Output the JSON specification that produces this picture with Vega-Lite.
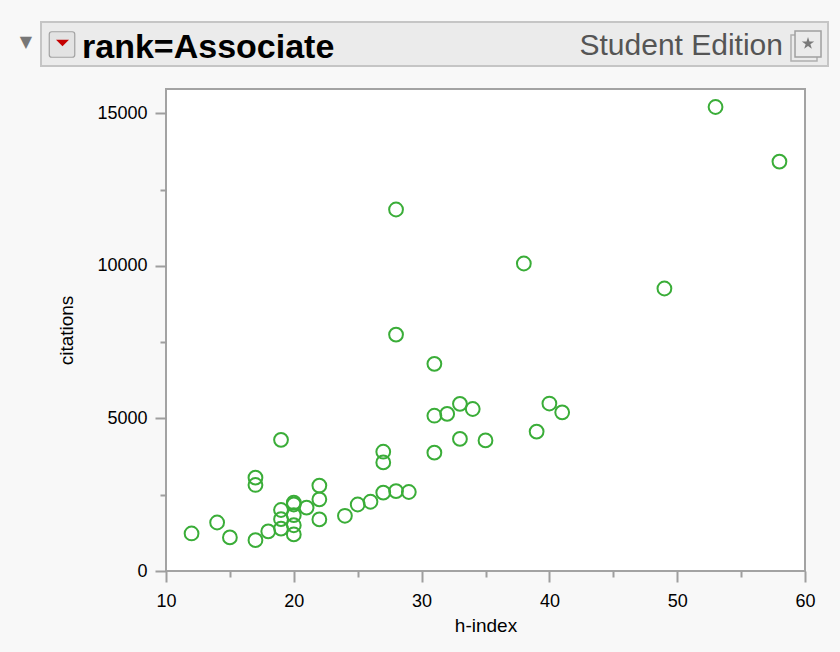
{
  "$schema": "https://vega.github.io/schema/vega-lite/v6.json",
  "background": "#f8f8f8",
  "padding": {"left": 19, "top": 21, "right": 12, "bottom": 16},
  "autosize": {"type": "pad"},
  "title": {"text": "▼", "anchor": "start", "frame": "bounds", "align": "center", "baseline": "middle", "dx": -14, "offset": -37, "fontSize": 16, "color": "#777777", "font": "DejaVu Sans", "fontWeight": "normal"},
  "spacing": 21,
  "config": {"font": "Liberation Sans"},
  "vconcat": [
    {
      "width": 787,
      "height": 44,
      "view": {"fill": "#ebebeb", "stroke": "#c5c5c5", "strokeWidth": 2},
      "data": {"values": [{}]},
      "layer": [
        {
          "mark": {"type": "point", "shape": "M-0.8,-1L0.8,-1Q1,-1,1,-0.8L1,0.8Q1,1,0.8,1L-0.8,1Q-1,1,-1,0.8L-1,-0.8Q-1,-1,-0.8,-1Z", "size": 650, "filled": true, "fill": "#e3e3e3", "stroke": "#a2a2a2", "strokeWidth": 1.2, "opacity": 1},
          "encoding": {
            "x": {"datum": 2.67, "type": "quantitative", "scale": {"domain": [0, 100], "nice": false, "zero": false}, "axis": null},
            "y": {"datum": 48.9, "type": "quantitative", "scale": {"domain": [0, 100], "nice": false, "zero": false}, "axis": null}
          }
        },
        {
          "mark": {"type": "point", "shape": "M-1,-0.5L1,-0.5L0,0.5Z", "size": 169, "filled": true, "fill": "#c40000", "strokeWidth": 0, "opacity": 1},
          "encoding": {
            "x": {"datum": 2.73, "type": "quantitative", "scale": {"domain": [0, 100], "nice": false, "zero": false}, "axis": null},
            "y": {"datum": 52.3, "type": "quantitative", "scale": {"domain": [0, 100], "nice": false, "zero": false}, "axis": null}
          }
        },
        {
          "mark": {"type": "text", "text": "rank=Associate", "align": "left", "baseline": "alphabetic", "font": "Liberation Sans", "fontWeight": "bold", "fontSize": 34, "color": "#000000"},
          "encoding": {
            "x": {"datum": 5.21, "type": "quantitative", "scale": {"domain": [0, 100], "nice": false, "zero": false}, "axis": null},
            "y": {"datum": 18.2, "type": "quantitative", "scale": {"domain": [0, 100], "nice": false, "zero": false}, "axis": null}
          }
        },
        {
          "mark": {"type": "text", "text": "Student Edition", "align": "right", "baseline": "alphabetic", "font": "Liberation Sans", "fontSize": 30, "color": "#555555"},
          "encoding": {
            "x": {"datum": 94.28, "type": "quantitative", "scale": {"domain": [0, 100], "nice": false, "zero": false}, "axis": null},
            "y": {"datum": 25, "type": "quantitative", "scale": {"domain": [0, 100], "nice": false, "zero": false}, "axis": null}
          }
        },
        {
          "mark": {"type": "point", "shape": "square", "size": 676, "filled": true, "fill": "#ebebeb", "stroke": "#b0b0b0", "strokeWidth": 1.5, "opacity": 1},
          "encoding": {
            "x": {"datum": 96.95, "type": "quantitative", "scale": {"domain": [0, 100], "nice": false, "zero": false}, "axis": null},
            "y": {"datum": 40.9, "type": "quantitative", "scale": {"domain": [0, 100], "nice": false, "zero": false}, "axis": null}
          }
        },
        {
          "mark": {"type": "point", "shape": "square", "size": 676, "filled": true, "fill": "#ebebeb", "stroke": "#a0a0a0", "strokeWidth": 1.5, "opacity": 1},
          "encoding": {
            "x": {"datum": 97.46, "type": "quantitative", "scale": {"domain": [0, 100], "nice": false, "zero": false}, "axis": null},
            "y": {"datum": 50, "type": "quantitative", "scale": {"domain": [0, 100], "nice": false, "zero": false}, "axis": null}
          }
        },
        {
          "mark": {"type": "point", "shape": "M0,-1L0.2245,-0.309L0.951,-0.309L0.363,0.118L0.588,0.809L0,0.382L-0.588,0.809L-0.363,0.118L-0.951,-0.309L-0.2245,-0.309Z", "size": 170, "filled": true, "fill": "#7a7a7a", "strokeWidth": 0, "opacity": 1},
          "encoding": {
            "x": {"datum": 97.46, "type": "quantitative", "scale": {"domain": [0, 100], "nice": false, "zero": false}, "axis": null},
            "y": {"datum": 51.1, "type": "quantitative", "scale": {"domain": [0, 100], "nice": false, "zero": false}, "axis": null}
          }
        }
      ]
    },
    {
      "spacing": 0,
      "hconcat": [
        {
          "width": 15,
          "height": 10,
          "view": {"stroke": null, "fill": null},
          "data": {"values": []},
          "mark": {"type": "point", "opacity": 0}
        },
        {
          "width": 639,
          "height": 482,
          "view": {"fill": "#ffffff", "stroke": "#a3a3a3", "strokeWidth": 2},
          "data": {
            "values": [
              {"h": 12, "citations": 1230},
              {"h": 14, "citations": 1590},
              {"h": 15, "citations": 1100},
              {"h": 17, "citations": 1010},
              {"h": 17, "citations": 3060},
              {"h": 17, "citations": 2820},
              {"h": 18, "citations": 1300},
              {"h": 19, "citations": 4300},
              {"h": 19, "citations": 2000},
              {"h": 19, "citations": 1700},
              {"h": 19, "citations": 1390},
              {"h": 20, "citations": 2240},
              {"h": 20, "citations": 2180},
              {"h": 20, "citations": 1830},
              {"h": 20, "citations": 1500},
              {"h": 20, "citations": 1200},
              {"h": 21, "citations": 2080},
              {"h": 22, "citations": 2800},
              {"h": 22, "citations": 2350},
              {"h": 22, "citations": 1690},
              {"h": 24, "citations": 1810},
              {"h": 25, "citations": 2180},
              {"h": 26, "citations": 2270},
              {"h": 27, "citations": 2570},
              {"h": 27, "citations": 3910},
              {"h": 27, "citations": 3560},
              {"h": 28, "citations": 2620},
              {"h": 29, "citations": 2590},
              {"h": 31, "citations": 3880},
              {"h": 31, "citations": 5090},
              {"h": 32, "citations": 5150},
              {"h": 33, "citations": 5480},
              {"h": 33, "citations": 4330},
              {"h": 34, "citations": 5310},
              {"h": 35, "citations": 4280},
              {"h": 31, "citations": 6790},
              {"h": 28, "citations": 7750},
              {"h": 28, "citations": 11850},
              {"h": 38, "citations": 10080},
              {"h": 39, "citations": 4570},
              {"h": 40, "citations": 5490},
              {"h": 41, "citations": 5200},
              {"h": 49, "citations": 9260},
              {"h": 53, "citations": 15210},
              {"h": 58, "citations": 13420}
            ]
          },
          "mark": {"type": "point", "filled": false, "size": 190, "strokeWidth": 2, "color": "#3aad38", "opacity": 1},
          "encoding": {
            "x": {
              "field": "h", "type": "quantitative", "title": "h-index",
              "scale": {"domain": [10, 60], "nice": false, "zero": false},
              "axis": {
                "values": [10, 15, 20, 25, 30, 35, 40, 45, 50, 55, 60],
                "format": "d",
                "labelExpr": "datum.value % 10 === 0 ? datum.label : ''",
                "tickSize": {"condition": {"test": "datum.value % 10 === 0", "value": 11}, "value": 6},
                "domain": false, "grid": false,
                "labelFontSize": 18, "labelColor": "#000000", "labelPadding": 10, "labelOverlap": false, "labelFlush": false,
                "tickColor": "#9e9e9e", "tickWidth": 2,
                "titleFontSize": 19, "titleFontWeight": "normal", "titleColor": "#000000", "titlePadding": 6
              }
            },
            "y": {
              "field": "citations", "type": "quantitative", "title": "citations",
              "scale": {"domain": [0, 15800], "nice": false, "zero": false},
              "axis": {
                "values": [0, 2500, 5000, 7500, 10000, 12500, 15000],
                "format": "d",
                "labelExpr": "datum.value % 5000 === 0 ? datum.label : ''",
                "tickSize": {"condition": {"test": "datum.value % 5000 === 0", "value": 11}, "value": 6},
                "domain": false, "grid": false,
                "labelFontSize": 18, "labelColor": "#000000", "labelPadding": 8, "labelOverlap": false,
                "tickColor": "#9e9e9e", "tickWidth": 2,
                "titleFontSize": 19, "titleFontWeight": "normal", "titleColor": "#000000", "titlePadding": 20
              }
            }
          }
        }
      ]
    }
  ]
}
